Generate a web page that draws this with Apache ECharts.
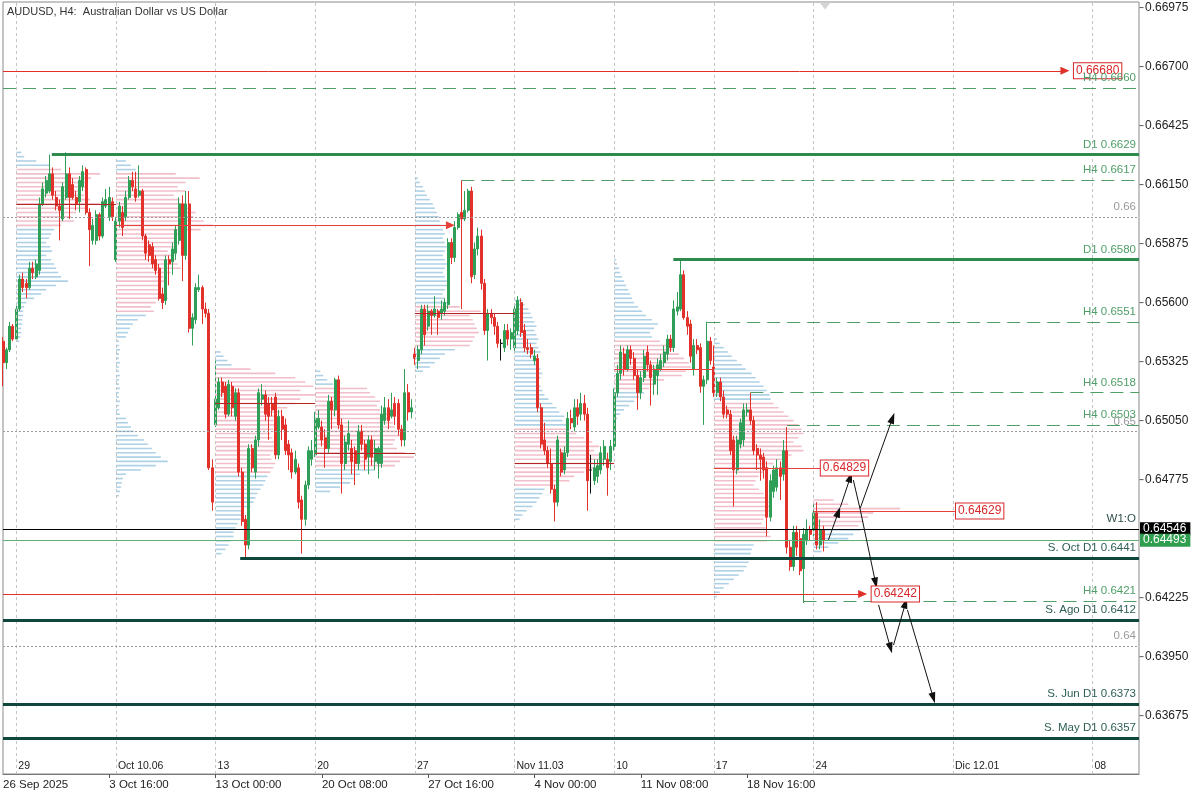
<!DOCTYPE html>
<html><head><meta charset="utf-8">
<script src="https://cdn.jsdelivr.net/npm/echarts@6/dist/echarts.min.js"></script>
<style>html,body{margin:0;padding:0;background:#fff}#c{width:1200px;height:800px}</style>
</head><body><div id="c"></div>
<script>
// ---------------- DATA ----------------
const titleText = 'AUDUSD, H4:  Australian Dollar vs US Dollar';
const firstBar = -4; // bar index of first candle (29 Sep 00:00 = 0)
// [open, close, low, high]
const ohlc = [
[.6542,.6532,.6521,.6544],[.6532,.6538,.6529,.6539],[.6538,.6549,.6537,.6551],[.6549,.6543,.6542,.6550],
[.6543,.6557,.6542,.6559],[.6557,.6571,.6556,.6573],[.6571,.6567,.6565,.6574],[.6569,.6567,.6562,.6571],[.6567,.6576,.6566,.6579],
[.6576,.6574,.6571,.6579],[.6572,.6578,.6571,.6580],[.6575,.6606,.6573,.6609],[.6606,.6613,.6605,.6616],[.6611,.6617,.6609,.6619],
[.6612,.6620,.6611,.6629],[.6620,.6610,.6608,.6623],[.6609,.6605,.6603,.6612],[.6605,.6603,.6589,.6608],[.6599,.6614,.6598,.6616],
[.6609,.6620,.6608,.6630],[.6620,.6609,.6599,.6623],[.6615,.6609,.6608,.6618],[.6609,.6606,.6603,.6612],[.6607,.6617,.6602,.6619],
[.6614,.6621,.6612,.6624],[.6622,.6602,.6601,.6623],[.6602,.6594,.6577,.6604],[.6589,.6596,.6587,.6599],[.6589,.6601,.6587,.6603],
[.6601,.6591,.6589,.6602],[.6591,.6607,.6590,.6609],[.6605,.6608,.6604,.6613],[.6600,.6609,.6598,.6614],[.6607,.6600,.6598,.6609],
[.6580,.6598,.6579,.6600],[.6598,.6605,.6595,.6607],[.6602,.6595,.6591,.6605],[.6600,.6609,.6598,.6612],[.6609,.6617,.6608,.6619],
[.6617,.6614,.6612,.6621],[.6613,.6609,.6607,.6621],[.6610,.6612,.6609,.6624],[.6612,.6591,.6589,.6613],[.6591,.6583,.6580,.6592],
[.6587,.6582,.6579,.6589],[.6586,.6578,.6576,.6588],[.6580,.6575,.6573,.6582],[.6576,.6562,.6561,.6578],[.6564,.6560,.6557,.6567],
[.6561,.6580,.6559,.6582],[.6580,.6578,.6568,.6582],[.6579,.6585,.6573,.6588],[.6583,.6594,.6580,.6596],[.6589,.6606,.6587,.6609],
[.6606,.6582,.6570,.6610],[.6582,.6606,.6580,.6612],[.6606,.6548,.6546,.6612],[.6548,.6553,.6540,.6555],[.6552,.6567,.6550,.6569],
[.6566,.6567,.6565,.6573],[.6567,.6557,.6550,.6568],[.6557,.6555,.6553,.6560],[.6555,.6483,.6482,.6557],[.6483,.6467,.6463,.6487],
[.6503,.6515,.6502,.6533],[.6511,.6523,.6510,.6525],[.6523,.6518,.6516,.6525],[.6521,.6508,.6506,.6523],[.6508,.6522,.6507,.6524],
[.6521,.6511,.6507,.6523],[.6507,.6518,.6505,.6520],[.6518,.6481,.6479,.6520],[.6481,.6458,.6456,.6483],[.6459,.6447,.6441,.6461],
[.6447,.6492,.6445,.6494],[.6492,.6483,.6481,.6494],[.6481,.6496,.6478,.6498],[.6496,.6518,.6493,.6520],[.6515,.6517,.6512,.6522],
[.6517,.6508,.6505,.6519],[.6513,.6507,.6496,.6516],[.6513,.6510,.6507,.6516],[.6516,.6489,.6487,.6518],[.6489,.6507,.6487,.6510],
[.6507,.6501,.6496,.6510],[.6503,.6491,.6489,.6506],[.6494,.6489,.6482,.6496],[.6490,.6481,.6478,.6492],[.6481,.6487,.6480,.6491],
[.6483,.6467,.6464,.6485],[.6468,.6459,.6443,.6470],[.6459,.6475,.6456,.6477],[.6475,.6491,.6473,.6493],[.6487,.6491,.6484,.6496],
[.6489,.6506,.6488,.6509],[.6502,.6506,.6501,.6510],[.6502,.6496,.6493,.6505],[.6497,.6492,.6483,.6501],[.6492,.6514,.6490,.6517],
[.6514,.6510,.6501,.6516],[.6510,.6524,.6507,.6525],[.6524,.6503,.6501,.6526],[.6503,.6485,.6471,.6506],[.6485,.6495,.6482,.6498],
[.6494,.6499,.6491,.6505],[.6492,.6486,.6480,.6496],[.6491,.6485,.6475,.6493],[.6485,.6500,.6482,.6503],[.6500,.6494,.6491,.6503],
[.6494,.6487,.6482,.6496],[.6488,.6496,.6480,.6498],[.6496,.6488,.6484,.6498],[.6486,.6492,.6482,.6496],[.6485,.6492,.6478,.6493],
[.6485,.6508,.6483,.6512],[.6505,.6511,.6503,.6516],[.6511,.6505,.6501,.6515],[.6507,.6510,.6506,.6518],[.6513,.6507,.6503,.6516],
[.6513,.6501,.6498,.6515],[.6501,.6496,.6493,.6503],[.6496,.6518,.6493,.6529],[.6518,.6509,.6505,.6522],[.6509,.6511,.6506,.6515],
[.6536,.6534,.6531,.6539],[.6533,.6538,.6529,.6540],[.6538,.6557,.6536,.6559],[.6557,.6545,.6540,.6559],[.6549,.6556,.6547,.6559],
[.6556,.6554,.6545,.6557],[.6554,.6557,.6553,.6563],[.6556,.6553,.6545,.6557],[.6555,.6557,.6552,.6561],[.6556,.6560,.6554,.6562],
[.6559,.6588,.6557,.6590],[.6588,.6581,.6578,.6590],[.6581,.6595,.6579,.6598],[.6595,.6601,.6594,.6602],[.6602,.6599,.6557,.6617],
[.6599,.6603,.6598,.6612],[.6603,.6612,.6602,.6613],[.6612,.6572,.6569,.6614],[.6573,.6585,.6571,.6588],[.6585,.6591,.6582,.6595],
[.6591,.6569,.6566,.6594],[.6569,.6547,.6545,.6571],[.6547,.6555,.6533,.6557],[.6555,.6553,.6550,.6557],[.6553,.6549,.6545,.6555],
[.6549,.6541,.6539,.6551],[.6541,.6541,.6533,.6543],[.6539,.6547,.6537,.6550],[.6547,.6543,.6540,.6550],[.6543,.6546,.6538,.6548],
[.6539,.6557,.6537,.6559],[.6547,.6561,.6545,.6563],[.6560,.6546,.6544,.6562],[.6547,.6539,.6537,.6550],[.6539,.6538,.6536,.6543],
[.6539,.6536,.6534,.6541],[.6533,.6535,.6531,.6538],[.6534,.6511,.6509,.6536],[.6511,.6494,.6492,.6513],[.6496,.6491,.6489,.6504],
[.6491,.6485,.6483,.6493],[.6485,.6473,.6471,.6492],[.6473,.6467,.6458,.6475],[.6467,.6496,.6465,.6498],[.6490,.6481,.6479,.6492],
[.6482,.6490,.6480,.6493],[.6490,.6506,.6488,.6509],[.6506,.6504,.6501,.6510],[.6502,.6511,.6500,.6515],[.6511,.6507,.6503,.6515],
[.6508,.6513,.6505,.6518],[.6513,.6508,.6505,.6517],[.6508,.6477,.6463,.6511],[.6482,.6482,.6471,.6489],[.6477,.6483,.6475,.6487],
[.6479,.6484,.6476,.6487],[.6482,.6490,.6480,.6493],[.6487,.6493,.6484,.6496],[.6487,.6483,.6470,.6490],[.6486,.6493,.6482,.6496],
[.6493,.6518,.6491,.6520],[.6518,.6527,.6516,.6531],[.6527,.6537,.6524,.6540],[.6536,.6529,.6526,.6539],[.6529,.6538,.6528,.6540],
[.6538,.6534,.6531,.6540],[.6534,.6526,.6524,.6537],[.6526,.6518,.6510,.6529],[.6518,.6525,.6515,.6528],[.6525,.6535,.6523,.6538],
[.6537,.6531,.6528,.6540],[.6531,.6525,.6512,.6533],[.6522,.6529,.6517,.6531],[.6526,.6531,.6517,.6534],[.6529,.6533,.6528,.6536],
[.6532,.6537,.6530,.6540],[.6536,.6543,.6533,.6545],[.6543,.6539,.6537,.6545],[.6539,.6557,.6537,.6561],[.6556,.6558,.6554,.6565],
[.6557,.6573,.6556,.6580],[.6573,.6553,.6552,.6575],[.6553,.6549,.6545,.6556],[.6550,.6535,.6532,.6552],[.6529,.6540,.6526,.6543],
[.6540,.6538,.6536,.6543],[.6539,.6521,.6518,.6541],[.6521,.6524,.6503,.6526],[.6524,.6542,.6522,.6551],[.6542,.6533,.6531,.6544],
[.6530,.6518,.6516,.6540],[.6518,.6523,.6516,.6525],[.6523,.6516,.6514,.6525],[.6516,.6508,.6506,.6519],[.6510,.6508,.6506,.6512],
[.6508,.6491,.6489,.6510],[.6496,.6482,.6465,.6498],[.6482,.6496,.6480,.6498],[.6494,.6504,.6492,.6506],[.6496,.6510,.6493,.6513],
[.6509,.6510,.6507,.6513],[.6510,.6505,.6503,.6518],[.6505,.6491,.6489,.6507],[.6492,.6489,.6482,.6494],[.6489,.6487,.6477,.6492],
[.6488,.6482,.6478,.6490],[.6483,.6460,.6451,.6486],[.6460,.6477,.6458,.6480],[.6472,.6482,.6469,.6484],[.6474,.6483,.6472,.6487],
[.6483,.6479,.6468,.6486],[.6480,.6491,.6477,.6496],[.6491,.6446,.6443,.6502],[.6446,.6437,.6435,.6449],[.6437,.6453,.6435,.6456],
[.6453,.6446,.6442,.6456],[.6450,.6435,.6433,.6454],[.6436,.6452,.6420,.6455],[.6449,.6454,.6447,.6459],[.6454,.6452,.6449,.6456],
[.6454,.6462,.6451,.6466],[.6462,.6447,.6445,.6467],[.6447,.6454,.6445,.6459],[.6454,.6449,.6444,.6456]
];

// weekly volume profiles
const weekStarts = [0, 30, 60, 90, 120, 150, 180, 210, 240];
const profileTop = [0.6630, 0.6626, 0.6537, 0.6528, 0.6618, 0.6561, 0.6580, 0.6543, 0.6468];
const profileStep = 0.0002;
const valueAreaHigh = [0.6622, 0.6620, 0.6529, 0.6520, 0.6558, 0.6501, 0.6542, 0.6513, 0.6468];
const valueAreaLow  = [0.6596, 0.6556, 0.6481, 0.6484, 0.6540, 0.6475, 0.6520, 0.6449, 0.6456];
const vol1 = [5,8,20,34,45,84,75,70,72,65,68,74,84,70,60,55,58,45,38,35,33,30,34,36,30,35,38,40,42,45,52,40,30,25,18,10,8,7,7,6,6,5,5,4,3];
const vol2 = [10,15,20,60,84,70,62,70,58,64,70,75,80,78,88,97,85,70,60,62,58,52,55,60,62,65,55,48,50,45,42,48,52,40,35,38,30,22,17,14,12,10,3,3,4,3,3,4,3,3,4,3,3,4,3,3,4,3,3,4,10,12,15,18,22,28,32,36,40,45,52,40,25,10,7,6,5,4,3];
const vol3 = [5,8,12,16,35,60,80,90,98,85,100,85,80,72,65,60,58,60,58,55,57,60,62,58,55,56,60,58,55,52,50,48,45,42,40,38,35,28,26,25,22,20,18,18,15,13,10,6];
const vol4 = [5,8,12,18,52,55,60,65,62,65,72,75,78,80,82,85,80,78,82,90,99,85,80,60,45,40,35,25,15];
const vol5 = [3,5,8,10,12,15,18,20,22,24,25,26,28,30,28,30,32,30,28,30,32,30,28,30,32,34,30,28,30,33,45,66,55,58,60,62,64,60,58,55,40,30,25,20,15,8];
const vol6 = [8,10,14,16,18,20,22,20,22,24,22,24,26,24,22,24,26,28,26,24,26,28,30,34,38,42,45,50,48,52,55,62,70,78,85,80,88,92,99,80,70,60,55,45,30,28,25,22,18,12,8,5];
const vol7 = [2,3,5,6,8,10,12,14,16,18,20,24,28,32,38,44,40,36,38,46,55,60,65,70,75,77,72,68,50,40,35,30,25,20,15,10,6,3];
const vol8 = [3,6,10,14,18,23,28,32,38,42,46,50,53,56,57,60,65,70,75,80,85,88,90,85,80,88,90,78,70,60,55,50,45,42,40,45,50,52,55,57,55,52,50,48,52,55,57,53,40,38,37,36,35,33,30,25,20,15,10,6,3];
const vol9 = [20,35,87,60,55,50,45,47,40,35,25,15,8];
const profileVolumes = [vol1, vol2, vol3, vol4, vol5, vol6, vol7, vol8, vol9];

// point of control per week and where its line ends (bar index)
const pocPrice = [0.6606, 0.6596, 0.6513, 0.6490, 0.6555, 0.6485, 0.6529, 0.64829, 0.64629];
const pocEnd   = [30, 130.7, 90, 120, 150, 180, 210, 242.2, 282.9];
const pocLabel = ['', '', '', '', '', '', '', '0.64829', '0.64629'];
// older untested POCs
const nakedPrice = [0.66680, 0.64242];
const nakedEnd = [315.7, 254.8];

// horizontal levels
const levelPrice = [0.6660, 0.6629, 0.6617, 0.6600, 0.6580, 0.6551, 0.6518, 0.6500, 0.6503, 0.64546, 0.64493, 0.6441, 0.6421, 0.6412, 0.6400, 0.6373, 0.6357];
const levelFrom  = [-4, 10.7, 134, -4, 197.8, 208, 221, -4, 232, -4, -4, 67.4, 237, -4, -4, -4, -4];
const levelText  = ['H4 0.6660','D1 0.6629','H4 0.6617','0.66','D1 0.6580','H4 0.6551','H4 0.6518','0.65','H4 0.6503','W1:O','','S. Oct D1 0.6441','H4 0.6421','S. Ago D1 0.6412','0.64','S. Jun D1 0.6373','S. May D1 0.6357'];
const levelKind  = ['h4','d1','h4','round','d1','h4','h4','round','h4','week','bid','sup','h4','sup','round','sup','sup'];
const axisTagPrice = [0.64546, 0.64493];
const axisTagKind = ['week', 'bid'];
const shiftMarkerBar = 243.5;

// scenario arrows [fromBar, fromPrice, toBar, toPrice, head]
const arrows = [
 [244.5,0.64494,247.5,0.64624,1],
 [248.1,0.64647,251.1,0.64787,1],
 [252.0,0.64773,254.1,0.64633,0],
 [254.1,0.64643,263.8,0.65062,1],
 [254.1,0.64633,258.7,0.64293,1],
 [259.6,0.64191,263.2,0.63990,1],
 [264.1,0.64004,267.7,0.64200,1],
 [268.3,0.64167,276.1,0.63757,1]
];

// axes
const priceTicks = [0.66975,0.66700,0.66425,0.66150,0.65875,0.65600,0.65325,0.65050,0.64775,0.64225,0.63950,0.63675];
const weekLabelBars = [0,30,60,90,120,150,180,210,240,282,324];
const weekLabels = ['29','Oct 10.06','13','20','27','Nov 11.03','10','17','24','Dic 12.01','08'];
const timeLabelBars = [-4,28,60,92,124,156,188,220];
const timeLabels = ['26 Sep 2025','3 Oct 16:00','13 Oct 00:00','20 Oct 08:00','27 Oct 16:00','4 Nov 00:00','11 Nov 08:00','18 Nov 16:00'];

// ---------------- CHART ----------------
const X_MIN = -4, X_MAX = 338, Y_MIN = 0.63403, Y_MAX = 0.67001;
const FONT = '"Liberation Sans", Arial, sans-serif';
const UP = '#2f9e57', DN = '#e2312b';
const VOL_TO_BARS = 0.3;

const candleData = ohlc.map((d, i) => [firstBar + i, d[0], d[1], d[2], d[3]]);

const profData = [];
profileVolumes.forEach((vols, w) => {
  vols.forEach((v, i) => {
    const p = +(profileTop[w] - i * profileStep).toFixed(5);
    const inVA = p <= valueAreaHigh[w] + 1e-9 && p >= valueAreaLow[w] - 1e-9;
    profData.push([weekStarts[w], p, v, inVA ? 1 : 0]);
  });
});

const kindStyle = {
  h4:    {color:'#4f9e68', width:1, type:[13,7], text:'#4f9e68'},
  d1:    {color:'#2e8b4e', width:3, type:'solid', text:'#4f9e68'},
  round: {color:'#9a9a9a', width:1, type:[2,2], text:'#9a9a9a'},
  week:  {color:'#000000', width:1, type:'solid', text:'#2f4f4f'},
  bid:   {color:'#5fae73', width:1, type:'solid', text:'#2f4f4f'},
  sup:   {color:'#10463b', width:3, type:'solid', text:'#2d5e55'}
};

const levelLines = levelPrice.map((p, i) => {
  const s = kindStyle[levelKind[i]];
  return [{
    coord: [levelFrom[i], p], symbol: 'none',
    lineStyle: {color: s.color, width: s.width, type: s.type},
    label: {show: !!levelText[i], position: 'insideEndTop', formatter: levelText[i], color: s.text,
            fontFamily: FONT, fontSize: 11.5, distance: [3, 4]}
  }, {coord: [X_MAX, p], symbol: 'none'}];
});

// price scale labels (invisible stub line, label just outside the plot)
const priceLabelLines = priceTicks.map(p => [{coord: [X_MAX - 1, p], symbol: 'none',
  lineStyle: {color: 'rgba(0,0,0,0)', width: 0},
  label: {show: true, position: 'end', formatter: p.toFixed(5), color: '#222', fontFamily: FONT, fontSize: 12, distance: 6}},
  {coord: [X_MAX, p], symbol: 'none'}]);

const tagLines = axisTagPrice.map((p, i) => {
  const bg = axisTagKind[i] === 'week' ? '#000000' : '#2f9e4f';
  return [{
    coord: [X_MIN, p], symbol: 'none', lineStyle: {color: 'rgba(0,0,0,0)', width: 0},
    label: {show: true, position: 'end', formatter: p.toFixed(5), color: '#ffffff', backgroundColor: bg,
            padding: [1, 4, 0, 3], fontFamily: FONT, fontSize: 12, distance: 1}
  }, {coord: [X_MAX, p], symbol: 'none'}];
});

const boxLabel = (txt, dist) => ({show: true, position: 'end', formatter: txt, color: '#d8262a', backgroundColor: '#fff',
  borderColor: '#d8262a', borderWidth: 1, padding: [2, 2, 1, 2], fontFamily: FONT, fontSize: 12, distance: dist});

const pocLines = pocPrice.map((p, w) => {
  const bright = w >= 6;
  const item0 = {coord: [weekStarts[w], p], symbol: 'none',
    lineStyle: {color: bright ? '#e8403a' : '#b32626', width: 1, type: 'solid'}, label: {show: false}};
  const item1 = {coord: [pocEnd[w], p], symbol: 'none'};
  if (w === 1) { item0.lineStyle.color = '#e8403a'; item1.symbol = 'triangle'; item1.symbolSize = [8, 9]; }
  if (pocLabel[w]) item0.label = boxLabel(pocLabel[w], 0);
  return [item0, item1];
});

const nakedLines = nakedPrice.map((p, i) => [{
  coord: [X_MIN, p], symbol: 'none', lineStyle: {color: '#e0302a', width: 1, type: 'solid'},
  label: boxLabel(p.toFixed(5), 9)
}, {coord: [nakedEnd[i], p], symbol: 'triangle', symbolSize: [8, 9]}]);

const arrowLines = arrows.map(a => [{
  coord: [a[0], a[1]], symbol: 'none', lineStyle: {color: '#111', width: 1, type: 'solid'}, label: {show: false}
}, {coord: [a[2], a[3]], symbol: a[4] ? 'triangle' : 'none', symbolSize: [7, 11]}]);

const vGrid = weekLabelBars.map(b => [{coord: [b, Y_MIN], symbol: 'none'}, {coord: [b, Y_MAX], symbol: 'none'}]);

const chart = echarts.init(document.getElementById('c'));
chart.setOption({
  animation: false,
  backgroundColor: '#fff',
  title: {text: titleText, left: 2, top: 1, textStyle: {fontFamily: FONT, fontSize: 11, fontWeight: 'normal', color: '#333'}},
  grid: {left: 3, right: 61, top: 2, bottom: 26, show: true, borderColor: '#8a8a8a', borderWidth: 1},
  xAxis: [{
    type: 'value', min: X_MIN, max: X_MAX, position: 'bottom',
    axisLine: {show: true, onZero: false, lineStyle: {color: '#777'}},
    axisTick: {show: true, customValues: timeLabelBars.slice(1), length: 4, lineStyle: {color: '#555'}},
    axisLabel: {customValues: timeLabelBars, formatter: v => timeLabels[timeLabelBars.indexOf(Math.round(v))] || '',
      align: 'left', margin: 5, fontFamily: FONT, fontSize: 11.5, color: '#222'},
    splitLine: {show: false}
  }, {
    type: 'value', min: X_MIN, max: X_MAX, position: 'bottom',
    axisLine: {show: false, onZero: false}, axisTick: {show: false},
    axisLabel: {inside: true, customValues: weekLabelBars, formatter: v => weekLabels[weekLabelBars.indexOf(Math.round(v))] || '',
      align: 'left', margin: 2, padding: [0, 0, 0, 2], fontFamily: FONT, fontSize: 10.5, color: '#222'},
    splitLine: {show: false}
  }],
  yAxis: {
    type: 'value', position: 'right', min: Y_MIN, max: Y_MAX, show: false,
    axisLine: {show: false, onZero: false}, axisTick: {show: false}, axisLabel: {show: false}, splitLine: {show: false}
  },
  series: [
    {type: 'line', data: [], z: 1, silent: true, clip: false,
     markLine: {silent: true, symbol: 'none', animation: false, label: {show: false},
       lineStyle: {color: '#c4c4c4', type: [3, 3], width: 1}, data: vGrid},
     markPoint: {silent: true, animation: false, symbol: 'triangle', symbolRotate: 180, symbolSize: [11, 7],
       symbolOffset: [0, 4], itemStyle: {color: '#d4d4d4'}, label: {show: false},
       data: [{coord: [shiftMarkerBar, Y_MAX]}]}},
    {type: 'custom', z: 2, silent: true, data: profData, encode: {x: 0, y: 1},
     renderItem: (params, api) => {
       const start = api.value(0), p = api.value(1), v = api.value(2), va = api.value(3);
       const a = api.coord([start, p]), b = api.coord([start + v * VOL_TO_BARS, p]);
       return {type: 'rect', shape: {x: a[0], y: a[1] - 0.8, width: b[0] - a[0], height: 1.6},
               style: {fill: va ? 'rgba(234,150,170,0.62)' : 'rgba(125,180,215,0.62)'}};
     }},
    {type: 'line', data: [], z: 3, silent: true, clip: false,
     markLine: {silent: true, symbol: 'none', animation: false, data: pocLines.concat(nakedLines)}},
    {type: 'candlestick', z: 4, data: candleData, encode: {x: 0, y: [1, 2, 3, 4]}, barWidth: 2.5,
     itemStyle: {color: UP, color0: DN, borderColor: UP, borderColor0: DN, borderWidth: 1, borderColorDoji: '#111'}},
    {type: 'line', data: [], z: 5, silent: true, clip: false,
     markLine: {silent: true, symbol: 'none', animation: false, data: levelLines.concat(priceLabelLines, tagLines)},
     markPoint: {silent: true, animation: false, symbol: 'rect', symbolSize: [4, 1], symbolOffset: [2.5, 0],
       itemStyle: {color: '#555'}, label: {show: false},
       data: priceTicks.map(p => ({coord: [X_MAX, p]}))}},
    {type: 'line', data: [], z: 6, silent: true, clip: false,
     markLine: {silent: true, symbol: 'none', animation: false, data: arrowLines}}
  ]
});
</script>
</body></html>
